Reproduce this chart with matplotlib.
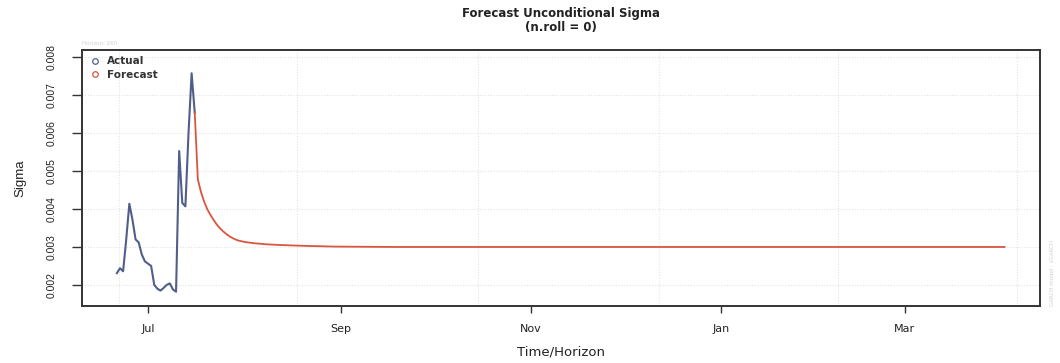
import numpy as np
import matplotlib
matplotlib.use("Agg")
import matplotlib.pyplot as plt
import matplotlib.dates as mdates
from matplotlib import font_manager
from matplotlib.lines import Line2D
import datetime as dt

# ---------------- data ----------------
origin = dt.datetime(2012, 7, 1)
# actual sigma: day offsets from 1 Jul and values
actual_days = [-10, -9, -8, -7, -6, -5, -4, -3, -2, -1, 0, 1, 2, 3, 4, 5, 6, 7, 8, 9,
               10, 11, 12, 13, 14, 15]
actual_sigma = [0.00231, 0.00244, 0.00236, 0.00320, 0.00414, 0.00372, 0.00320, 0.00312,
                0.00280, 0.00262, 0.00256, 0.00250, 0.00200, 0.00190, 0.00185, 0.00192,
                0.00200, 0.00204, 0.00188, 0.00182, 0.00553, 0.00416, 0.00407, 0.00600,
                0.00758, 0.00654]
# forecast sigma
forecast_days = [15, 16, 17, 18, 19, 20, 21, 22, 23, 24, 25, 26, 27, 28, 29, 30, 32, 34,
                 38, 43, 50, 60, 80, 275]
forecast_sigma = [0.00654, 0.00478, 0.00445, 0.00420, 0.00400, 0.00385, 0.00372, 0.00360,
                  0.00350, 0.00342, 0.00335, 0.00329, 0.00324, 0.00320, 0.00317, 0.00315,
                  0.00312, 0.00310, 0.00307, 0.00305, 0.00303, 0.00301, 0.00300, 0.00300]
month_ticks = ["2012-07-01", "2012-09-01", "2012-11-01", "2013-01-01", "2013-03-01"]
month_labels = ["Jul", "Sep", "Nov", "Jan", "Mar"]
vgrid_days = [-9.3, 47.8, 106.0, 164.0, 221.5, 279.0]
y_ticks = [0.002, 0.003, 0.004, 0.005, 0.006, 0.007, 0.008]
y_labels = ["0.002", "0.003", "0.004", "0.005", "0.006", "0.007", "0.008"]
horizon = 260

# ---------------- style ----------------
def has_font(name):
    try:
        font_manager.findfont(name, fallback_to_default=False)
        return True
    except Exception:
        return False

narrow = "Liberation Sans Narrow" if has_font("Liberation Sans Narrow") else "Liberation Sans"
col_actual = "#515e8c"
col_fc = "#d9553f"

W, H = 1060, 363
fig = plt.figure(figsize=(W / 100, H / 100), dpi=100)
L, R, T, B = 82, 1040, 50, 306
ax = fig.add_axes([L / W, 1 - B / H, (R - L) / W, (B - T) / H])

base = mdates.date2num(origin)
ax.plot([base + d for d in actual_days], actual_sigma, color=col_actual, lw=1.5, zorder=3)
ax.plot([base + d for d in forecast_days], forecast_sigma, color=col_fc, lw=1.3, zorder=4)

ax.set_xlim(base - 21.2, base + 286.4)
ax.set_ylim(0.001444, 0.008193)

# grid
for d in vgrid_days:
    ax.axvline(base + d, color="#e4e4e4", lw=0.8, ls=(0, (1, 1.5)), zorder=1)
for y in y_ticks:
    ax.axhline(y, color="#e4e4e4", lw=0.8, ls=(0, (1, 1.5)), zorder=1)

tick_nums = [mdates.date2num(dt.datetime.strptime(s, "%Y-%m-%d")) for s in month_ticks]
ax.set_xticks(tick_nums)
ax.set_xticklabels(month_labels, fontsize=8, family="DejaVu Sans", color="#222222")
ax.set_yticks(y_ticks)
ax.set_yticklabels(y_labels, fontsize=7.5, family=narrow, rotation=90, va="center",
                   color="#222222")
ax.tick_params(axis="x", length=5, width=1, pad=8, color="#333333")
ax.tick_params(axis="y", length=7, width=1, pad=11, color="#333333")
for s in ax.spines.values():
    s.set_linewidth(1.4)
    s.set_color("#333333")

ax.set_xlabel("Time/Horizon", fontsize=9.5, family="DejaVu Sans", color="#222222",
              labelpad=8)
ax.set_ylabel("Sigma", fontsize=9.5, family=narrow, color="#222222")
ax.yaxis.set_label_coords((26 - L) / (R - L), 0.5)
ax.set_title("Forecast Unconditional Sigma\n(n.roll = 0)", fontsize=8.5,
             fontweight="bold", family="DejaVu Sans", color="#222222", pad=14,
             linespacing=1.1)

# legend
handles = [Line2D([], [], ls="none", marker="o", mfc="none", mec=col_actual, ms=4, mew=0.9),
           Line2D([], [], ls="none", marker="o", mfc="none", mec=col_fc, ms=4, mew=0.9)]
leg = ax.legend(handles, ["Actual", "Forecast"], loc="upper left", frameon=False,
                prop={"family": "DejaVu Sans", "size": 7.5, "weight": "bold"},
                handletextpad=0.6, borderaxespad=0.2, labelspacing=0.35,
                handlelength=1.2)
for t in leg.get_texts():
    t.set_color("#333333")

# faint annotations
fig.text(L / W, 1 - 46 / H, "Horizon: %d" % horizon, fontsize=4, color="#d0d0d0",
         ha="left", va="bottom")
fig.text(1052 / W, 1 - B / H, "GARCH model : sGARCH", fontsize=4, color="#d0d0d0",
         rotation=90, ha="center", va="bottom")

fig.savefig("out.png", dpi=100)
